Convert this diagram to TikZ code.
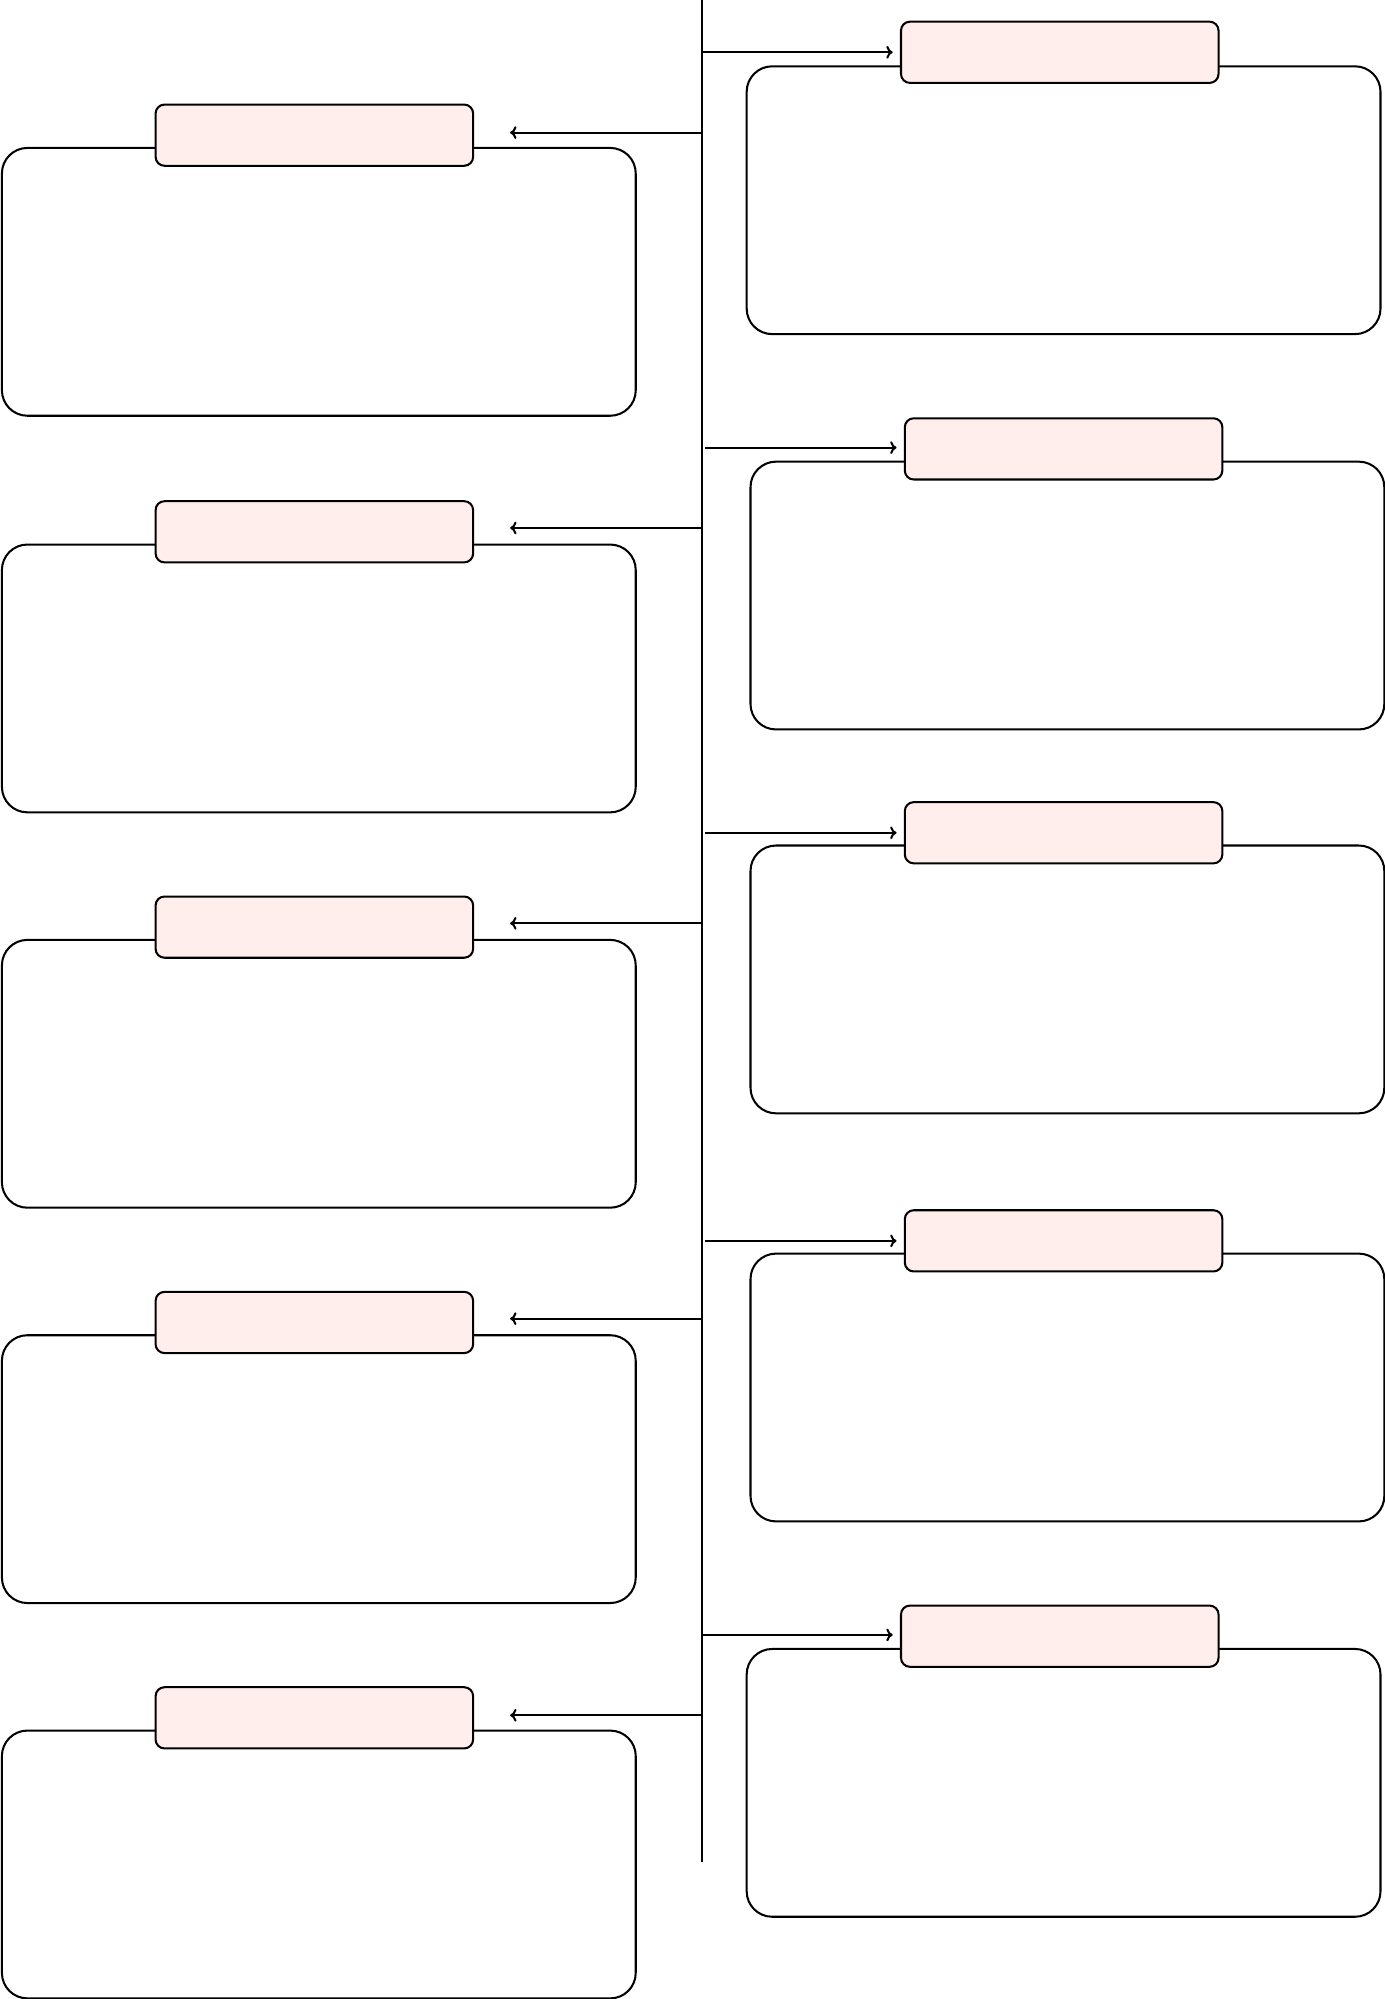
\documentclass[tikz,border=0pt]{standalone}
\usetikzlibrary{arrows.meta}
\definecolor{labelfill}{RGB}{255,238,235}
\begin{document}
\begin{tikzpicture}[x=0.5pt,y=-0.5pt,
  bigbox/.style={draw=black,line width=0.8pt,fill=white,rounded corners=10pt,
    minimum width=248.5pt,minimum height=105pt,inner sep=0pt},
  labelbox/.style={draw=black,line width=0.8pt,fill=labelfill,rounded corners=3.5pt,
    minimum width=124.5pt,minimum height=24pt,inner sep=0pt},
  spine/.style={line width=0.8pt},
  arr/.style={line width=0.8pt,-{To[length=2.5pt,width=5pt]}}]
\useasboundingbox (0,0) rectangle (1086,1567.5);
% spine
\coordinate (stop) at (550.5,0);
\coordinate (sbot) at (550.5,1460);
\draw[spine] (stop) -- (sbot);
% left column
\node[bigbox] (bL1) at (250,221) {};
\node[bigbox] (bL2) at (250,532) {};
\node[bigbox] (bL3) at (250,842) {};
\node[bigbox] (bL4) at (250,1152) {};
\node[bigbox] (bL5) at (250,1462) {};
\node[labelbox] (lL1) at (246.5,106) {};
\node[labelbox] (lL2) at (246.5,417) {};
\node[labelbox] (lL3) at (246.5,727) {};
\node[labelbox] (lL4) at (246.5,1037) {};
\node[labelbox] (lL5) at (246.5,1347) {};
% right column
\node[bigbox] (bR1) at (834,157) {};
\node[bigbox] (bR2) at (837,467) {};
\node[bigbox] (bR3) at (837,768) {};
\node[bigbox] (bR4) at (837,1088) {};
\node[bigbox] (bR5) at (834,1398) {};
\node[labelbox] (lR1) at (831,41) {};
\node[labelbox] (lR2) at (834,352) {};
\node[labelbox] (lR3) at (834,653) {};
\node[labelbox] (lR4) at (834,973) {};
\node[labelbox] (lR5) at (831,1283) {};
% connectors: left
\foreach \n/\y in {1/104,2/414,3/724,4/1034,5/1345}{
  \coordinate (sL\n) at (550.5,\y);
  \coordinate (eL\n) at (400,\y);
  \draw[arr] (sL\n) -- (eL\n);
}
% connectors: right
\foreach \n/\x/\y/\e in {1/550.5/41/700,2/553/351/703,3/553/653/703,4/553/973/703,5/550.5/1282/700}{
  \coordinate (sR\n) at (\x,\y);
  \coordinate (eR\n) at (\e,\y);
  \draw[arr] (sR\n) -- (eR\n);
}
\end{tikzpicture}
\end{document}
